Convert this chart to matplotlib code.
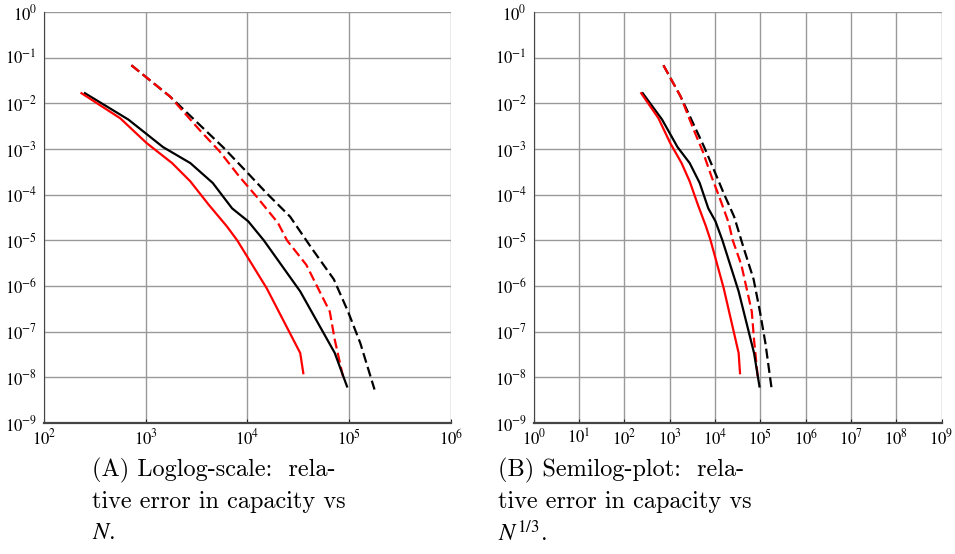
import numpy as np
import matplotlib
matplotlib.use("Agg")
import matplotlib.pyplot as plt

plt.rcParams['mathtext.fontset'] = 'stix'
plt.rcParams['font.family'] = 'STIXGeneral'

# relative error in capacity vs N, four runs
n_black = [253, 676, 1480, 2750, 4570, 7080, 10200, 14500, 33100, 72400, 95500]
err_black = [1.66e-2, 4.4e-3, 1.1e-3, 4.9e-4, 1.8e-4, 5.0e-5, 2.6e-5, 1.0e-5, 7.6e-7, 3.4e-8, 6.3e-9]

n_red = [234, 562, 1020, 1820, 2750, 4170, 6310, 7940, 15500, 33100, 35500]
err_red = [1.66e-2, 4.7e-3, 1.35e-3, 4.9e-4, 1.95e-4, 6.0e-5, 2.0e-5, 1.0e-5, 8.9e-7, 3.4e-8, 1.23e-8]

n_black_d = [724, 1740, 5750, 9770, 15500, 26300, 42700, 70800, 97700, 129000, 178000]
err_black_d = [6.8e-2, 1.4e-2, 1.1e-3, 3.2e-4, 1.07e-4, 3.3e-5, 6.8e-6, 1.4e-6, 2.75e-7, 5.6e-8, 5.4e-9]

n_red_d = [724, 1740, 3390, 5370, 8320, 12300, 20000, 24500, 38000, 64600, 72400, 87100]
err_red_d = [6.8e-2, 1.4e-2, 2.6e-3, 8.7e-4, 2.5e-4, 9.1e-5, 2.4e-5, 1.0e-5, 2.9e-6, 2.75e-7, 6.6e-8, 1.05e-8]

captions = [
    ["(A) Loglog-scale:  rela-", "tive error in capacity vs", "$N$."],
    ["(B) Semilog-plot:  rela-", "tive error in capacity vs", "$N^{1/3}$."],
]


def setup(ax, xmin, xmax):
    ax.set_xscale('log')
    ax.set_yscale('log')
    ax.set_xlim(xmin, xmax)
    ax.set_ylim(1e-9, 1)
    ax.set_xticks([10.0**k for k in range(int(np.log10(xmin)), int(np.log10(xmax)) + 1)])
    ax.set_yticks([10.0**k for k in range(-9, 1)])
    ax.minorticks_off()
    ax.grid(True, color='#999999', lw=1.0)
    ax.set_axisbelow(True)
    for s in ['top', 'right']:
        ax.spines[s].set_visible(False)
    ax.spines['left'].set_color('#444444')
    ax.spines['bottom'].set_color('#444444')
    ax.spines['bottom'].set_linewidth(1.6)
    ax.tick_params(axis='both', direction='in', length=3, color='#222222',
                   labelsize=12, pad=4)
    ax.tick_params(axis='y', direction='out', length=0, pad=5)


def draw(ax):
    ax.plot(n_black_d, err_black_d, color='black', lw=1.6, ls=(0, (4.5, 2)))
    ax.plot(n_red_d, err_red_d, color='#ff0000', lw=1.6, ls=(0, (4.5, 2)))
    ax.plot(n_black, err_black, color='black', lw=1.6)
    ax.plot(n_red, err_red, color='#ff0000', lw=1.6)


fig = plt.figure(figsize=(9.55, 5.54), dpi=100)
ax1 = fig.add_axes([0.046, 0.2365, 0.426, 0.742])
ax2 = fig.add_axes([0.559, 0.2365, 0.427, 0.742])

setup(ax1, 1e2, 1e6)
setup(ax2, 1e0, 1e9)
draw(ax1)
draw(ax2)

for x0, lines in zip([0.096, 0.521], captions):
    for i, line in enumerate(lines):
        fig.text(x0, 0.150 - i * 0.056, line, fontsize=17.5, family='cmr10',
                 va='center', ha='left')

fig.savefig('out.png', dpi=100)
